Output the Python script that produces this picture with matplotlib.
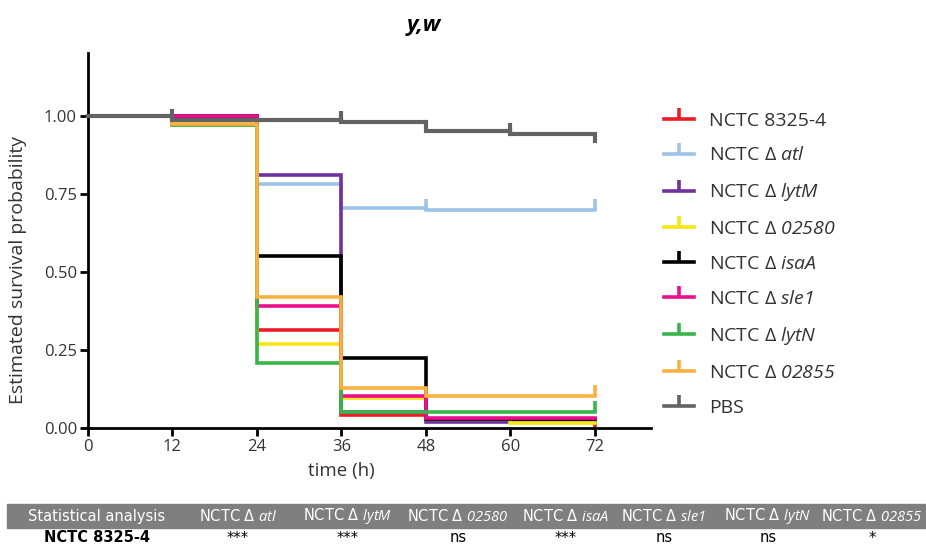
import matplotlib
matplotlib.use("Agg")
import matplotlib.pyplot as plt
from matplotlib.lines import Line2D
from matplotlib.patches import Rectangle

plt.rcParams['font.family'] = ['Open Sans', 'DejaVu Sans']
plt.rcParams['mathtext.fontset'] = 'custom'
# italic gene names are written as mathtext; digits use the rm slot, so make it italic too
plt.rcParams['mathtext.it'] = 'Open Sans:italic'
plt.rcParams['mathtext.rm'] = 'Open Sans:italic'

# --- data ---
times = [0, 12, 24, 36, 48, 60, 72]

strains = ["NCTC 8325-4", "NCTC Δ $\\mathit{atl}$", "NCTC Δ $\\mathit{lytM}$",
           "NCTC Δ $\\mathit{02580}$", "NCTC Δ $\\mathit{isaA}$", "NCTC Δ $\\mathit{sle1}$",
           "NCTC Δ $\\mathit{lytN}$", "NCTC Δ $\\mathit{02855}$", "PBS"]

surv_8325 = [1.0, 0.97, 0.314, 0.042, 0.028, 0.028, 0.0]
surv_atl = [1.0, 1.0, 0.782, 0.704, 0.699, 0.699, 0.699]
surv_lytM = [1.0, 1.0, 0.811, 0.05, 0.02, 0.02, 0.02]
surv_02580 = [1.0, 0.97, 0.269, 0.095, 0.03, 0.015, 0.015]
surv_isaA = [1.0, 1.0, 0.549, 0.223, 0.03, 0.03, 0.03]
surv_sle1 = [1.0, 1.0, 0.392, 0.104, 0.031, 0.031, 0.031]
surv_lytN = [1.0, 0.97, 0.207, 0.05, 0.05, 0.05, 0.05]
surv_02855 = [1.0, 0.973, 0.418, 0.129, 0.104, 0.104, 0.104]
surv_pbs = [1.0, 0.985, 0.985, 0.979, 0.95, 0.942, 0.92]

# censored time points (tick marks)
cens_atl = [48, 72]
cens_lytN = [72]
cens_02855 = [72]
cens_pbs = [12, 36, 60]

table_header = ["Statistical analysis", "NCTC Δ $\\mathit{atl}$", "NCTC Δ $\\mathit{lytM}$",
                "NCTC Δ $\\mathit{02580}$", "NCTC Δ $\\mathit{isaA}$", "NCTC Δ $\\mathit{sle1}$",
                "NCTC Δ $\\mathit{lytN}$", "NCTC Δ $\\mathit{02855}$"]
table_row = ["NCTC 8325-4", "***", "***", "ns", "***", "ns", "ns", "*"]

colors = ['#ed1c24', '#9dc3e6', '#7030a0', '#f5e614', '#000000',
          '#ec0f8c', '#39b54a', '#fbb040', '#636363']
series = [surv_8325, surv_atl, surv_lytM, surv_02580, surv_isaA,
          surv_sle1, surv_lytN, surv_02855, surv_pbs]
censored = [[], cens_atl, [], [], [], [], cens_lytN, cens_02855, cens_pbs]

fig = plt.figure(figsize=(9.26, 5.47), dpi=100)
ax = fig.add_axes([88/926, 1-428/547, (651-88)/926, (428-53)/547])

lw = 2.6
for i, (s, c, cens) in enumerate(zip(series, colors, censored)):
    w = 3.0 if c == '#636363' else lw
    ax.step(times, s, where='post', color=c, lw=w, zorder=2+i,
            solid_joinstyle='miter', clip_on=False)
    for t in cens:
        k = times.index(t)
        ax.plot([t], [s[k]], marker=2, markersize=8, mew=w, color=c,
                zorder=2+i, clip_on=False)

ax.set_xlim(0, 80)
ax.set_ylim(0, 1.2)
ax.set_xticks(times)
ax.set_xticklabels([str(t) for t in times])
ax.set_yticks([0, 0.25, 0.5, 0.75, 1.0])
ax.set_yticklabels(['0.00', '0.25', '0.50', '0.75', '1.00'])
for side in ['top', 'right']:
    ax.spines[side].set_visible(False)
for side in ['left', 'bottom']:
    ax.spines[side].set_linewidth(2)
ax.tick_params(width=2, length=6, labelsize=12, labelcolor='#333333', pad=2)

ax.set_ylabel('Estimated survival probability', fontsize=14, color='#333333')
ax.yaxis.set_label_coords(-0.108, 0.42)
ax.set_xlabel('time (h)', fontsize=13.5, color='#333333', labelpad=2)
ax.xaxis.set_label_coords(36/80, -0.09)

fig.text(424/926, 1-25/547, 'y,w', fontsize=16, fontweight='bold',
         fontstyle='italic', ha='center', va='center')

handles = [Line2D([0], [0], color=c, lw=lw, marker=2, markersize=8, mew=lw)
           for c in colors]
leg = fig.legend(handles, strains, loc='upper left',
                 bbox_to_anchor=(646/926, 1-94/547), frameon=False,
                 fontsize=14, handlelength=1.55, handletextpad=0.8,
                 labelspacing=0.87, numpoints=1)
for t in leg.get_texts():
    t.set_color('#333333')

# --- statistics table under the chart ---
fig.patches.append(Rectangle((7/926, 1-528/547), 1-7/926, 24/547,
                             transform=fig.transFigure, color='#7f7f7f', zorder=0))
col_x = [97, 238, 348, 458, 566, 664, 768, 872]
tfont = ['Liberation Sans Narrow', 'DejaVu Sans']
for x, h, r in zip(col_x, table_header, table_row):
    fig.text(x/926, 1-516/547, h, color='white', fontsize=10.5, ha='center',
             va='center', family=tfont)
    fig.text(x/926, 1-538/547, r, color='black', fontsize=10.5, ha='center',
             va='center', family=tfont,
             fontweight='bold' if r.startswith('NCTC') else 'normal')

fig.savefig('out.png', dpi=100)
